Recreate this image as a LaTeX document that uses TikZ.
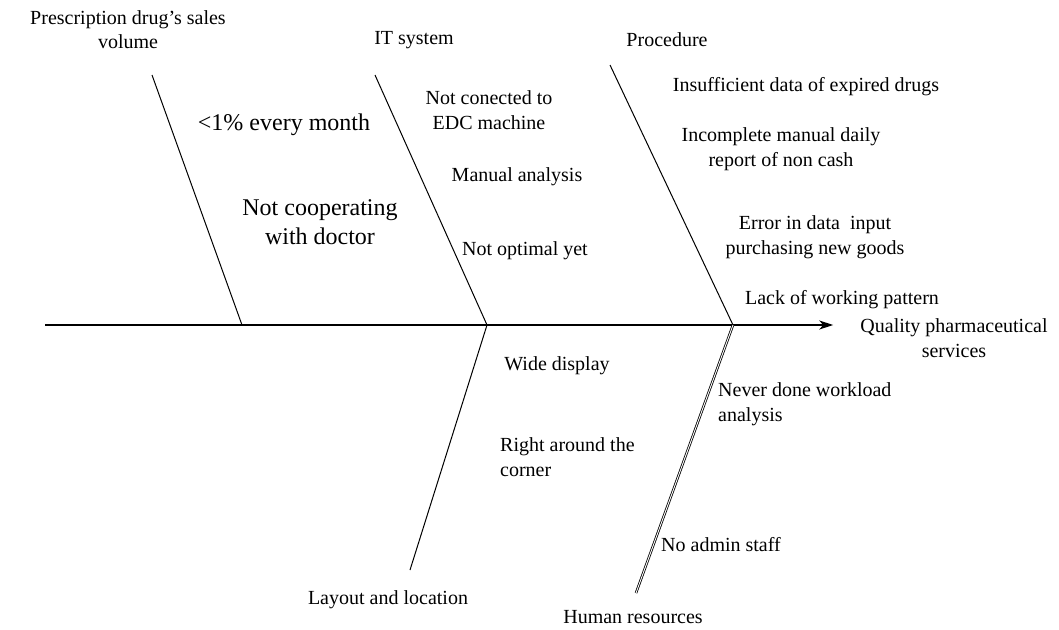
\documentclass[tikz,border=0pt]{standalone}
\usepackage{fontspec}
\setmainfont{Liberation Serif}
\usetikzlibrary{arrows.meta}
\tikzset{
  >={Stealth[length=14pt,width=9pt,inset=4pt]},
  spine/.style={line width=1.1pt,->,shorten >=27pt},
  bone/.style={line width=1pt},
  bone double/.style={line width=0.8pt,double,double distance=0.9pt},
  cat/.style={font=\fontsize{20}{24}\selectfont,align=center,inner sep=0pt},
  cause/.style={font=\fontsize{20}{24.5}\selectfont,align=#1,inner sep=0pt},
  cause/.default=center,
  big cause/.style={font=\fontsize{24}{29}\selectfont,align=center,inner sep=0pt},
}

\begin{document}
\begin{tikzpicture}[x=1pt,y=-1pt]
  \useasboundingbox (0,0) rectangle (1059,629);
  % spine and effect
  \coordinate (tail) at (45,325);
  \node[cause] (effect) at (954,338) {Quality pharmaceutical\\services};
  \draw[spine] (tail) -- (tail -| effect.west);
  % bone ends
  \coordinate (j1) at (242,325);
  \coordinate (j2) at (487,325);
  \coordinate (j3) at (733,325);
  \coordinate (b1) at (152,75);
  \coordinate (b2) at (375,75);
  \coordinate (b3) at (410,570);
  \coordinate (b4) at (610,65);
  \coordinate (b5) at (636,593);
  \draw[bone] (b1) -- (j1);
  \draw[bone] (b2) -- (j2);
  \draw[bone] (j2) -- (b3);
  \draw[bone] (b4) -- (j3);
  \draw[bone double] (j3) -- (b5);
  % categories
  \foreach \n/\x/\y/\t in {
    sales/128/30/{Prescription drug's sales\\volume},
    it/414/40/IT system,
    proc/667/40/Procedure,
    layout/388/600/Layout and location,
    hr/633/617/Human resources}
    \node[cat] (\n) at (\x,\y) {\t};
  % causes
  \node[big cause] (month) at (284,125) {<1\% every month};
  \node[big cause] (doctor) at (320,222) {Not cooperating\\with doctor};
  \foreach \n/\x/\y/\t in {
    edc/489/110/{Not conected to\\EDC machine},
    manual/517/177/Manual analysis,
    expired/806/87/Insufficient data of expired drugs,
    noncash/781/149/{Incomplete manual daily\\report of non cash},
    input/815/237/{Error in data\ \ input\\purchasing new goods},
    pattern/842/300/Lack of working pattern,
    display/557/366/Wide display,
    admin/721/545/No admin staff}
    \node[cause] (\n) at (\x,\y) {\t};
  \node[cause,anchor=west] (optimal) at (462,251) {Not optimal yet};
  \node[cause=left,anchor=west] (corner) at (500,457) {Right around the\\corner};
  \node[cause=left,anchor=west] (workload) at (718,404) {Never done workload\\analysis};
\end{tikzpicture}
\end{document}
